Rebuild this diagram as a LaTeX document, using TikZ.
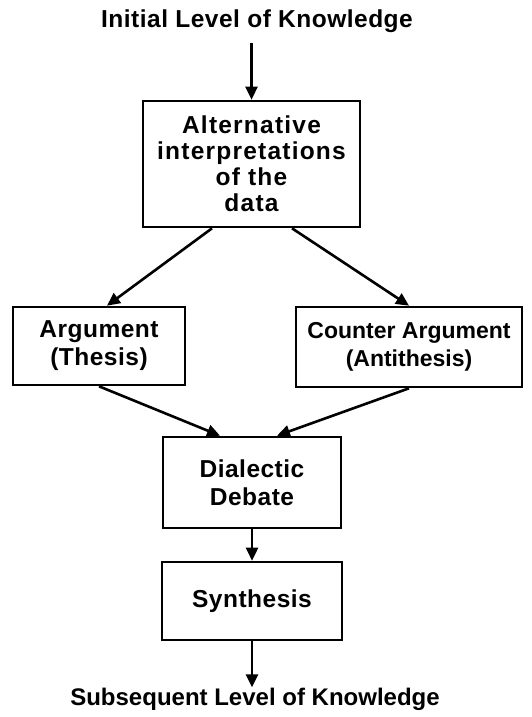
\documentclass[tikz,border=0pt]{standalone}
\usepackage{fontspec}
\setmainfont{Liberation Sans}
\newfontfamily\spacedA[LetterSpace=2]{Liberation Sans}
\newfontfamily\spacedC[LetterSpace=5]{Liberation Sans}
\usetikzlibrary{arrows.meta,calc}
\begin{document}
\begin{tikzpicture}[x=1pt,y=-1pt,
  lbl/.style={font=\spacedA\bfseries\fontsize{24.5}{27}\selectfont, inner sep=0pt},
  boxnode/.style={draw, line width=2.6pt, align=center, inner sep=0pt,
    font=\spacedA\bfseries\fontsize{24.5}{28}\selectfont},
  arr/.style={line width=2.6pt, -{Triangle[length=13pt,width=12pt]}}]
\useasboundingbox (0,0) rectangle (531,717);
\node[lbl, anchor=base] (title) at (257,28) {Initial Level of Knowledge};
\node[boxnode, minimum width=217pt, minimum height=126pt, font=\spacedC\bfseries\fontsize{24.5}{26}\selectfont] (box1) at (251.5,164)
  {Alternative\\interpretations\\of the\\data};
\node[boxnode, minimum width=172pt, minimum height=78pt] (arg) at (99,346) {Argument\\(Thesis)};
\node[boxnode, minimum width=226pt, minimum height=80pt, font=\bfseries\fontsize{23}{28}\selectfont] (counter) at (409,347) {Counter Argument\\(Antithesis)};
\node[boxnode, minimum width=178pt, minimum height=91pt] (debate) at (252,482.5) {Dialectic\\Debate};
\node[boxnode, minimum width=180pt, minimum height=78pt] (synth) at (252,601) {Synthesis};
\node[lbl, anchor=base, font=\bfseries\fontsize{24}{27}\selectfont] (subseq) at (255,705) {Subsequent Level of Knowledge};
\draw[arr, shorten <=10pt] (title.south -| box1.north) -- (box1.north);
\draw[arr] ($(box1.south)+(-39.5,0)$) -- ($(arg.north)+(8,0)$);
\draw[arr] ($(box1.south)+(40.5,0)$) -- (counter.north);
\draw[arr] (arg.south) -- ($(debate.north)+(-32,0)$);
\draw[arr] (counter.south) -- ($(debate.north)+(25,0)$);
\draw[arr] (debate.south) -- (synth.north);
\draw[arr] (synth.south) -- (synth.south |- subseq.north);
\end{tikzpicture}
\end{document}
